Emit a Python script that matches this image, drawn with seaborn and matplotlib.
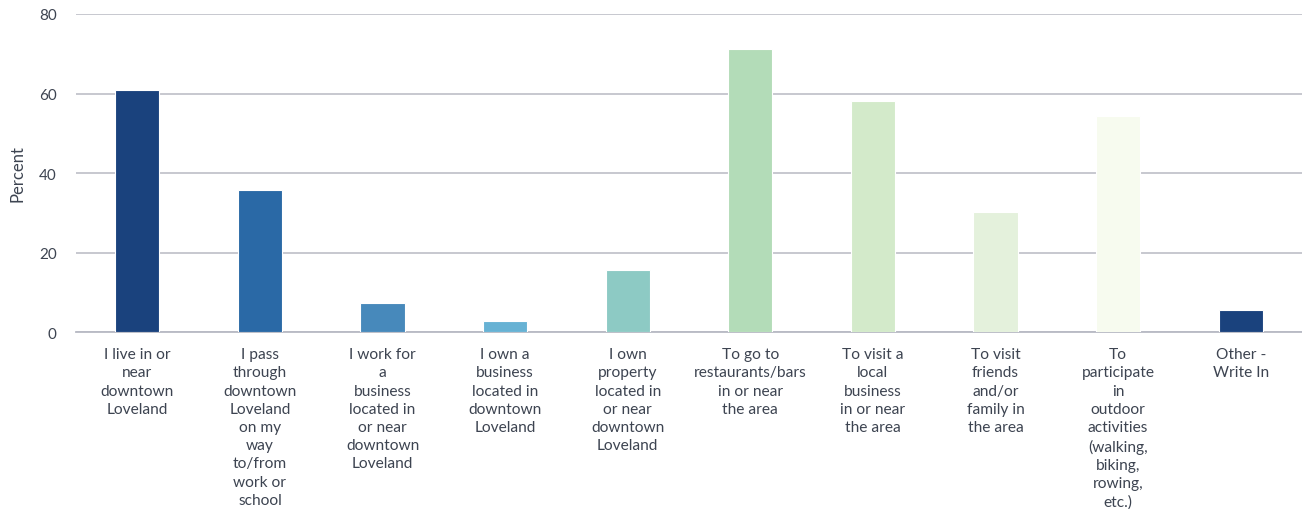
import matplotlib
matplotlib.use("Agg")
import matplotlib.pyplot as plt
import seaborn as sns
import pandas as pd

categories = [
    "I live in or\nnear\ndowntown\nLoveland",
    "I pass\nthrough\ndowntown\nLoveland\non my\nway\nto/from\nwork or\nschool",
    "I work for\na\nbusiness\nlocated in\nor near\ndowntown\nLoveland",
    "I own a\nbusiness\nlocated in\ndowntown\nLoveland",
    "I own\nproperty\nlocated in\nor near\ndowntown\nLoveland",
    "To go to\nrestaurants/bars\nin or near\nthe area",
    "To visit a\nlocal\nbusiness\nin or near\nthe area",
    "To visit\nfriends\nand/or\nfamily in\nthe area",
    "To\nparticipate\nin\noutdoor\nactivities\n(walking,\nbiking,\nrowing,\netc.)",
    "Other -\nWrite In",
]
percent = [61.0, 35.8, 7.2, 2.9, 15.5, 71.1, 58.1, 30.2, 54.4, 5.5]
bar_colors = ["#1a427d", "#2a69a6", "#4789bb", "#67b2d4", "#8dcac4",
              "#b3dcb8", "#d3eaca", "#e4f1dc", "#f7fbef", "#1a427d"]
y_ticks = [0, 20, 40, 60, 80]

df = pd.DataFrame({"reason": categories, "percent": percent})

sns.set_theme(style="white")
plt.rcParams["font.family"] = ["Lato", "DejaVu Sans"]
text_color = "#3d4451"

fig = plt.figure(figsize=(13.02, 5.10), dpi=100)
ax = fig.add_axes([0.0584, 0.347, 0.9416, 0.6236])

sns.barplot(data=df, x="reason", y="percent", hue="reason",
            palette=bar_colors, saturation=1, legend=False, width=0.36,
            edgecolor="#ffffff", linewidth=0.8, ax=ax, zorder=3)

ax.set_ylim(0, 80)
ax.set_yticks(y_ticks)
ax.set_xlim(-0.5, len(categories) - 0.5)
ax.grid(axis="y", color="#c3c4cc", linewidth=1.3, zorder=0)
ax.grid(axis="x", visible=False)
for s in ["top", "right", "left"]:
    ax.spines[s].set_visible(False)
ax.spines["bottom"].set_color("#b8bac4")
ax.spines["bottom"].set_linewidth(1.3)

ax.tick_params(axis="y", length=0, pad=14, labelsize=11, labelcolor=text_color)
ax.tick_params(axis="x", length=0, pad=11, labelsize=11.2, labelcolor=text_color)
for lbl in ax.get_xticklabels():
    lbl.set_linespacing(1.38)
    lbl.set_horizontalalignment("center")

ax.set_xlabel("")
ax.set_ylabel("Percent", fontsize=12, color=text_color)
ax.yaxis.set_label_coords(-0.041, 0.5)

fig.savefig("out.png", dpi=100, facecolor="white")
